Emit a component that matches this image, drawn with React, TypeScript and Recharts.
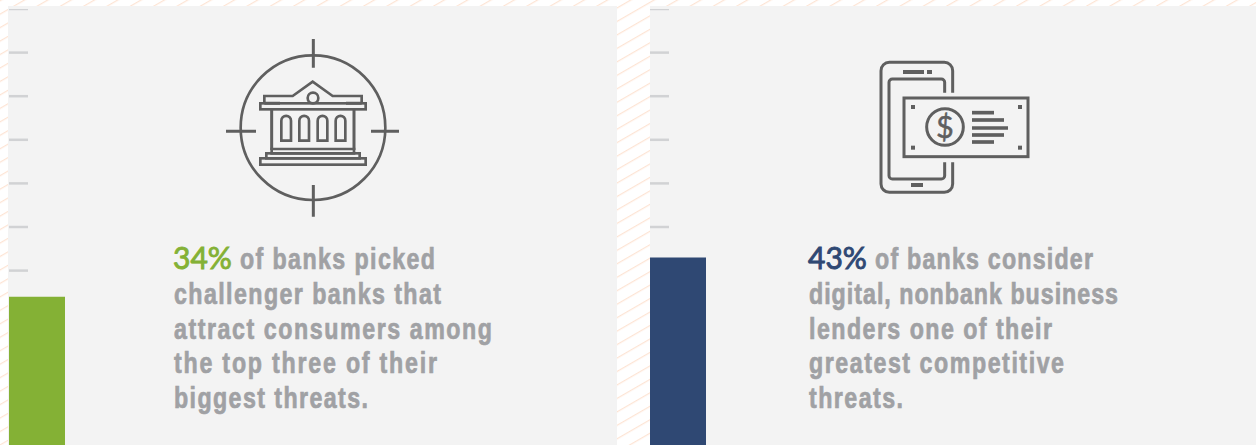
import React from 'react';
import { BarChart, Bar, XAxis, YAxis } from 'recharts';

// Share of banks per threat, one panel each
const threatNames = ['Challenger banks', 'Digital nonbank lenders'];
const threatShares = [34, 43];
const yTicks = [0, 10, 20, 30, 40, 50, 60, 70, 80, 90, 100];

const barColors = ['#84b135', '#2f4873'];
const GREY = '#a0a1a4';
const ICON = '#5f5f5f';
const TICK = '#d1d2d4';

const percentLabels = ['34%', '43%'];
const firstLineRest = ['of banks picked', 'of banks consider'];
const firstLineWidths = [195, 218];
const leftLines = ['challenger banks that', 'attract consumers among', 'the top three of their', 'biggest threats.'];
const leftWidths = [267, 318, 263, 194];
const rightLines = ['digital, nonbank business', 'lenders one of their', 'greatest competitive', 'threats.'];
const rightWidths = [309, 243, 255, 94];

const SQUEEZE = 0.8;

function ShareBar({ index, left }: { index: number; left: number }) {
  const share = threatShares[index];
  const rows = [{ name: threatNames[index], share }];
  return (
    <div style={{ position: 'absolute', left, top: 9 }}>
      <BarChart width={56} height={436} data={rows} barCategoryGap={0} margin={{ top: 0, right: 0, bottom: 0, left: 0 }}>
        <XAxis dataKey="name" hide />
        {/* ticks stop where the bar starts */}
        <YAxis
          mirror
          domain={[0, 100]}
          ticks={yTicks.filter((t) => t > share)}
          tickFormatter={() => ''}
          tickSize={19}
          axisLine={false}
          tickLine={{ stroke: TICK, strokeWidth: 2.5 }}
        />
        <Bar dataKey="share" fill={barColors[index]} isAnimationActive={false} />
      </BarChart>
    </div>
  );
}

// Liberation Sans squeezed horizontally stands in for the condensed face
function BodyLine({ x, y, width, children }: { x: number; y: number; width: number; children: string }) {
  return (
    <text
      transform={`translate(${x} ${y}) scale(${SQUEEZE} 1)`}
      textLength={width / SQUEEZE}
      lengthAdjust="spacing"
      style={{
        fontFamily: '"Liberation Sans", sans-serif',
        fontWeight: 700,
        fontSize: 29,
        fill: GREY,
        stroke: GREY,
        strokeWidth: 0.7,
      }}
    >
      {children}
    </text>
  );
}

function Callout({ index, x, lines, widths, restX }: { index: number; x: number; lines: string[]; widths: number[]; restX: number }) {
  const baseY = 269;
  const step = 34.8;
  return (
    <g>
      <text
        x={x - 1}
        y={baseY}
        style={{ fontFamily: 'Lato', fontWeight: 400, fontSize: 30, fill: barColors[index], stroke: barColors[index], strokeWidth: 0.9 }}
      >
        {percentLabels[index]}
      </text>
      <BodyLine x={restX} y={baseY} width={firstLineWidths[index]}>{firstLineRest[index]}</BodyLine>
      {lines.map((line, i) => (
        <BodyLine key={line} x={x} y={baseY + step * (i + 1)} width={widths[i]}>{line}</BodyLine>
      ))}
    </g>
  );
}

// Bank inside a crosshair, drawn on a 3x grid
function BankIcon() {
  const arches = [184, 238, 293, 347];
  return (
    <svg width={190} height={195} viewBox="0 0 570 585" style={{ position: 'absolute', left: 220, top: 30 }}>
      <g fill="none" stroke={ICON} strokeWidth={8}>
        <circle cx={279} cy={293} r={217} strokeWidth={8} />
        <path d="M280 27V113M280 465V560M18 304H108M453 304H537" strokeWidth={9} />
        <path d="M133 220V198H218L278 155L338 198H425V220" />
        <path d="M133 220H180M378 220H425" strokeWidth={9} />
        <rect x={121} y={220} width={316} height={18} />
        <circle cx={279} cy={204} r={16} />
        <path d="M155 238V360M402 238V360" strokeWidth={9} />
        {arches.map((ax) => (
          <path key={ax} d={`M${ax} 332V272a14 14 0 0 1 29 0V332Z`} />
        ))}
        <path d="M155 357H402V370H155Z" />
        <rect x={139} y={370} width={280} height={15} />
        <rect x={121} y={385} width={316} height={19} />
      </g>
    </svg>
  );
}

// Phone with a banknote across it
function PhoneIcon() {
  const noteDots = [[123, 150], [444, 150], [123, 272], [444, 272]];
  const noteLines = [[173, 372], [195, 402], [219, 414], [240, 402], [261, 372]];
  return (
    <svg width={170} height={145} viewBox="0 0 510 435" style={{ position: 'absolute', left: 870, top: 55 }}>
      <g fill="none" stroke={ICON} strokeWidth={9}>
        <path d="M248 113V47a25 25 0 0 0-25-25H58a25 25 0 0 0-25 25V387a25 25 0 0 0 25 25H223a25 25 0 0 0 25-25V322" />
        <path d="M224 113V82a10 10 0 0 0-10-10H67a10 10 0 0 0-10 10V362a10 10 0 0 0 10 10H214a10 10 0 0 0 10-10V322" />
        <rect x={102} y={129} width={372} height={176} />
        <circle cx={225} cy={216} r={55} />
        <g fill={ICON} stroke="none">
          <rect x={99} y={45} width={63} height={12} />
          <rect x={171} y={45} width={15} height={12} />
          <rect x={123} y={384} width={36} height={12} />
          {noteDots.map(([dx, dy]) => (
            <rect key={`${dx}-${dy}`} x={dx} y={dy} width={12} height={12} />
          ))}
        </g>
        {noteLines.map(([ly, lx]) => (
          <path key={ly} d={`M306 ${ly}H${lx}`} strokeWidth={11} />
        ))}
      </g>
      <text
        x={225}
        y={248}
        textAnchor="middle"
        style={{ fontFamily: 'Lato', fontWeight: 400, fontSize: 92, fill: ICON, stroke: ICON, strokeWidth: 1.5 }}
      >
        $
      </text>
    </svg>
  );
}

export default function App() {
  return (
    <div style={{ position: 'absolute', left: 0, top: 0, width: 1256, height: 445, overflow: 'hidden', background: '#fff' }}>
      <svg width={1256} height={445} style={{ position: 'absolute', left: 0, top: 0 }}>
        <defs>
          <pattern id="hatch" patternUnits="userSpaceOnUse" width={40} height={11.66} patternTransform="rotate(-30)">
            <line x1={0} y1={0.7} x2={40} y2={0.7} stroke="#fde4d4" strokeWidth={1.2} />
          </pattern>
        </defs>
        <rect width={1256} height={445} fill="url(#hatch)" />
      </svg>
      <div style={{ position: 'absolute', left: 8, top: 6, width: 609, height: 439, background: '#f3f3f3' }} />
      <div style={{ position: 'absolute', left: 650, top: 6, width: 606, height: 439, background: '#f3f3f3' }} />
      <ShareBar index={0} left={9} />
      <ShareBar index={1} left={650} />
      <BankIcon />
      <PhoneIcon />
      <svg width={1256} height={445} style={{ position: 'absolute', left: 0, top: 0 }}>
        <Callout index={0} x={174} restX={240} lines={leftLines} widths={leftWidths} />
        <Callout index={1} x={809} restX={875} lines={rightLines} widths={rightWidths} />
      </svg>
    </div>
  );
}
